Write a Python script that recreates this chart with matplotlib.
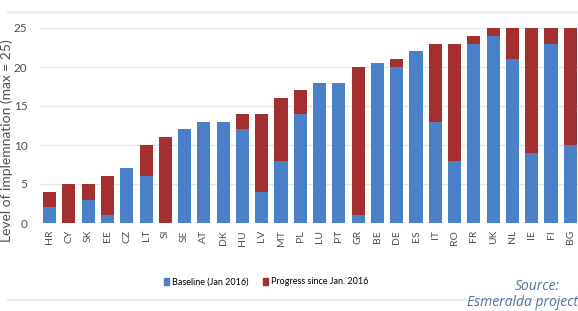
import matplotlib
matplotlib.use("Agg")
import matplotlib.pyplot as plt
from matplotlib.lines import Line2D
from matplotlib.patches import Patch

countries = ["HR", "CY", "SK", "EE", "CZ", "LT", "SI", "SE", "AT", "DK", "HU", "LV", "MT", "PL",
             "LU", "PT", "GR", "BE", "DE", "ES", "IT", "RO", "FR", "UK", "NL", "IE", "FI", "BG"]
baseline = [2, 0, 3, 1, 7, 6, 0, 12, 13, 13, 12, 4, 8, 14,
            18, 18, 1, 20.5, 20, 22, 13, 8, 23, 24, 21, 9, 23, 10]
progress = [2, 5, 2, 5, 0, 4, 11, 0, 0, 0, 2, 10, 8, 3,
            0, 0, 19, 0, 1, 0, 10, 15, 1, 1, 4, 16, 2, 15]
yticks = [0, 5, 10, 15, 20, 25]

blue = "#4a80c8"
red = "#a3302e"
font = ["Lato", "DejaVu Sans"]

fig = plt.figure(figsize=(5.78, 3.11), dpi=100)
ax = fig.add_axes([40/578, 88/311, 1 - 40/578, (223 - 28)/311])

x = list(range(len(countries)))
ax.bar(x, baseline, width=0.68, color=blue, zorder=3)
ax.bar(x, progress, width=0.68, bottom=baseline, color=red, zorder=3)

ax.set_xlim(-0.5, 27.4)
ax.set_ylim(0, 25)
ax.set_yticks(yticks)
ax.set_yticklabels([str(t) for t in yticks], family=font, fontsize=8.5, color="#505050")
ax.set_xticks(x)
ax.set_xticklabels(countries, rotation=90, family=font, fontsize=7.5, color="#505050")
ax.tick_params(length=0, pad=5)
ax.tick_params(axis="y", pad=9)
ax.grid(axis="y", color="#e6e6e6", linewidth=1, zorder=0)
for s in ax.spines.values():
    s.set_visible(False)

fig.text(7/578, 1 - 141/311, "Level of implemnation (max = 25)", rotation=90,
         ha="center", va="center", family=font, fontsize=10, color="#505050")

handles = [Patch(color=blue, label="Baseline (Jan 2016)"),
           Patch(color=red, label="Progress since Jan. 2016")]
fig.legend(handles=handles, loc="center", bbox_to_anchor=(266/578, 1 - 282/311), ncol=2,
           frameon=False, prop={"family": font, "size": 6.5}, handlelength=0.6,
           handleheight=0.9, handletextpad=0.3, columnspacing=1.6)

fig.add_artist(Line2D([8/578, 1], [1 - 12/311, 1 - 12/311], color="#ebebeb", linewidth=1.8,
                      transform=fig.transFigure))
fig.add_artist(Line2D([8/578, 1], [1 - 300/311, 1 - 300/311], color="#ebebeb", linewidth=1.5,
                      transform=fig.transFigure))

fig.text(537/578, 1 - 286/311, "Source:", ha="center", va="center", style="italic",
         fontsize=10, color="#4f73a0", family=["Open Sans", "DejaVu Sans"])
fig.text(578/578, 1 - 302/311, "Esmeralda project", ha="right", va="center", style="italic",
         fontsize=10, color="#4f73a0", family=["Open Sans", "DejaVu Sans"])

fig.savefig("out.png", dpi=100, facecolor="white")
